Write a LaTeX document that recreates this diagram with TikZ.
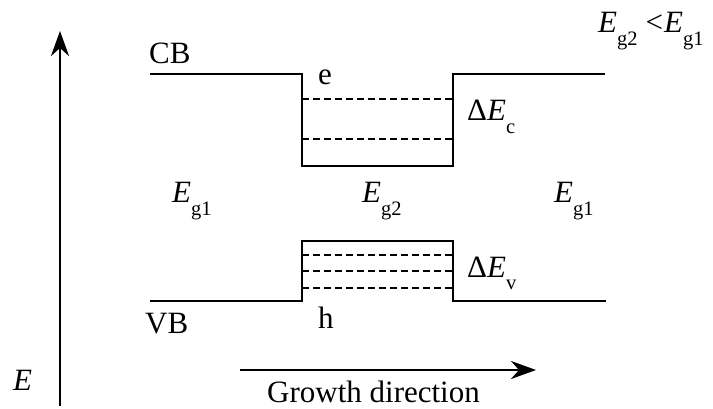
\documentclass[tikz,border=0pt]{standalone}
\usepackage{fontspec}
\setmainfont{Liberation Serif}
\usetikzlibrary{arrows.meta}
\newcommand\sbs[1]{\raisebox{-13pt}{\fontsize{20.5pt}{20.5pt}\selectfont #1}}
\begin{document}
\begin{tikzpicture}[x=1pt,y=-1pt,
  band/.style={line width=2.7pt},
  level/.style={line width=2.1pt,dash pattern=on 7pt off 4pt},
  axis/.style={line width=2.7pt,-{Stealth[length=25pt,width=18pt,inset=8pt]}},
  lbl/.style={anchor=base west,inner sep=0pt,font=\fontsize{31pt}{36pt}\selectfont}]
\useasboundingbox (0,0) rectangle (713,409);
% conduction band
\draw[band] (150,74) -- (302,74) -- (302,166) -- (453,166) -- (453,74) -- (605,74);
\draw[level] (302,99) -- (453,99);
\draw[level] (302,139) -- (453,139);
% valence band
\draw[band] (150,301) -- (302,301) -- (302,241) -- (453,241) -- (453,301) -- (606,301);
\draw[level] (302,255) -- (453,255);
\draw[level] (302,271) -- (453,271);
\draw[level] (302,288) -- (453,288);
% axes
\coordinate (ebot) at (60,406);
\coordinate (etop) at (60,31);
\draw[axis] (ebot) -- (etop);
\coordinate (gstart) at (240,370);
\coordinate (gend) at (536,370);
\draw[axis] (gstart) -- (gend);
% labels
\node[lbl] (cb) at (149,64) {CB};
\node[lbl] (vb) at (145,333) {VB};
\node[lbl] (el) at (318,85) {e};
\node[lbl] (ho) at (318,328) {h};
\node[lbl] (en) at (13,390) {\itshape E};
\node[lbl] (eg1l) at (172,203) {{\itshape E}\sbs{g1}};
\node[lbl] (eg2) at (362,203) {{\itshape E}\sbs{g2}};
\node[lbl] (eg1r) at (554,203) {{\itshape E}\sbs{g1}};
\node[lbl] (dec) at (467,121) {Δ{\itshape E}\sbs{c}};
\node[lbl] (dev) at (467,277) {Δ{\itshape E}\sbs{v}};
\node[lbl] (cmp) at (598,33) {{\itshape E}\sbs{g2}\hspace{8pt}<\hspace{1pt}{\itshape E}\sbs{g1}};
\node[lbl] (gd) at (267,402) {Growth direction};
\end{tikzpicture}
\end{document}
